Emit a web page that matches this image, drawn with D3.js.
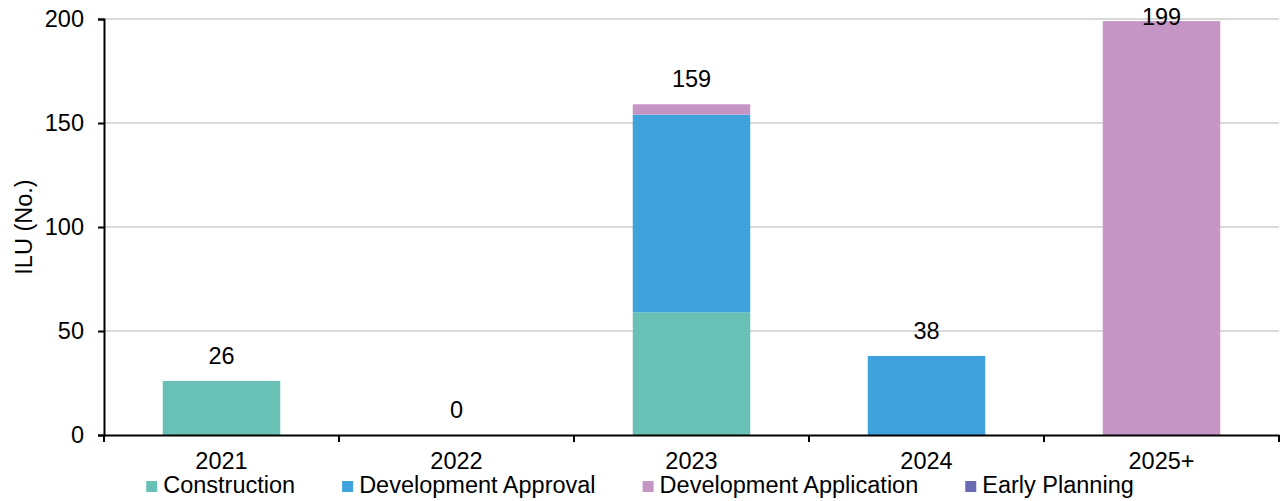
<!DOCTYPE html>
<html>
<head>
<meta charset="utf-8">
<script src="https://cdn.jsdelivr.net/npm/d3@7"></script>
<style>
  body { margin: 0; background: #fff; }
  text { font-family: "Liberation Sans", Arial, sans-serif; fill: #000; }
</style>
</head>
<body>
<svg id="chart"></svg>
<script>
const categories = ['2021', '2022', '2023', '2024', '2025+'];
const seriesNames = ['Construction', 'Development Approval', 'Development Application', 'Early Planning'];
const construction = [26, 0, 59, 0, 0];
const developmentApproval = [0, 0, 95, 38, 0];
const developmentApplication = [0, 0, 5, 0, 199];
const earlyPlanning = [0, 0, 0, 0, 0];
const yTicks = [0, 50, 100, 150, 200];
const colors = ['#69c0b4', '#3fa2dc', '#c596c5', '#6a6ab3'];

const width = 1284, height = 501;
const margin = { top: 19, right: 5, bottom: 66, left: 104 };
const fontSize = 23.5;

const rows = categories.map((c, i) => ({
    category: c,
    'Construction': construction[i],
    'Development Approval': developmentApproval[i],
    'Development Application': developmentApplication[i],
    'Early Planning': earlyPlanning[i]
}));

const svg = d3.select('#chart')
    .attr('width', width)
    .attr('height', height);

const x = d3.scaleBand()
    .domain(categories)
    .range([margin.left, width - margin.right])
    .paddingInner(0.5)
    .paddingOuter(0.25);

const y = d3.scaleLinear()
    .domain([0, 200])
    .range([height - margin.bottom, margin.top]);

// gridlines
svg.append('g')
    .selectAll('line')
    .data(yTicks.filter(d => d > 0))
    .enter().append('line')
        .attr('x1', margin.left)
        .attr('x2', width - margin.right)
        .attr('y1', d => y(d))
        .attr('y2', d => y(d))
        .attr('stroke', '#d9d9d9')
        .attr('stroke-width', 2);

// stacked bars
const stack = d3.stack().keys(seriesNames);
const layers = stack(rows);

svg.append('g')
    .selectAll('g.layer')
    .data(layers)
    .enter().append('g')
        .attr('class', 'layer')
        .attr('fill', (d, i) => colors[i])
    .selectAll('rect')
    .data(d => d)
    .enter().append('rect')
        .attr('x', d => x(d.data.category))
        .attr('width', x.bandwidth())
        .attr('y', d => y(d[1]))
        .attr('height', d => y(d[0]) - y(d[1]));

// y axis
const yAxis = svg.append('g')
    .attr('transform', `translate(${margin.left},0)`)
    .call(d3.axisLeft(y).tickValues(yTicks).tickSize(6).tickPadding(14));
yAxis.select('.domain').attr('stroke', '#000').attr('stroke-width', 2);
yAxis.selectAll('.tick line').attr('stroke', '#000').attr('stroke-width', 2);
yAxis.selectAll('.tick text')
    .attr('font-size', fontSize)
    .attr('font-family', '"Liberation Sans", Arial, sans-serif');

// x axis
const step = x.step();
const xAxis = svg.append('g')
    .attr('transform', `translate(0,${y(0)})`)
    .call(d3.axisBottom(x).tickSize(0).tickPadding(17));
xAxis.select('.domain').attr('stroke', '#000').attr('stroke-width', 2);
xAxis.selectAll('.tick text')
    .attr('font-size', fontSize)
    .attr('font-family', '"Liberation Sans", Arial, sans-serif');

const boundaries = [margin.left].concat(categories.map(c => x(c) + x.bandwidth() / 2 + step / 2));
xAxis.selectAll('line.bound')
    .data(boundaries)
    .enter().append('line')
        .attr('class', 'bound')
        .attr('x1', d => d)
        .attr('x2', d => d)
        .attr('y1', 0)
        .attr('y2', 7)
        .attr('stroke', '#000')
        .attr('stroke-width', 2);

// total labels
const totals = rows.map(r => d3.sum(seriesNames, k => r[k]));
svg.append('g')
    .selectAll('text')
    .data(totals)
    .enter().append('text')
        .attr('x', (d, i) => x(categories[i]) + x.bandwidth() / 2)
        .attr('y', d => Math.max(y(d) - 17, 25))
        .attr('text-anchor', 'middle')
        .attr('font-size', fontSize)
        .text(d => d);

// y title
svg.append('text')
    .attr('transform', `translate(32,${(y(0) + y(200)) / 2}) rotate(-90)`)
    .attr('text-anchor', 'middle')
    .attr('font-size', fontSize)
    .text('ILU (No.)');

// legend
const legend = svg.append('g');
const items = legend.selectAll('g.item')
    .data(seriesNames)
    .enter().append('g')
        .attr('class', 'item');
items.append('rect')
    .attr('width', 11)
    .attr('height', 11)
    .attr('y', -12)
    .attr('fill', (d, i) => colors[i]);
items.append('text')
    .attr('x', 17)
    .attr('y', 0)
    .attr('font-size', fontSize)
    .text(d => d);

let offset = 0;
const gap = 47;
items.each(function () {
    const w = 17 + this.querySelector('text').getComputedTextLength();
    d3.select(this).attr('transform', `translate(${offset},0)`);
    offset += w + gap;
});
const total = offset - gap;
legend.attr('transform', `translate(${640 - total / 2},${493})`);
</script>
</body>
</html>
